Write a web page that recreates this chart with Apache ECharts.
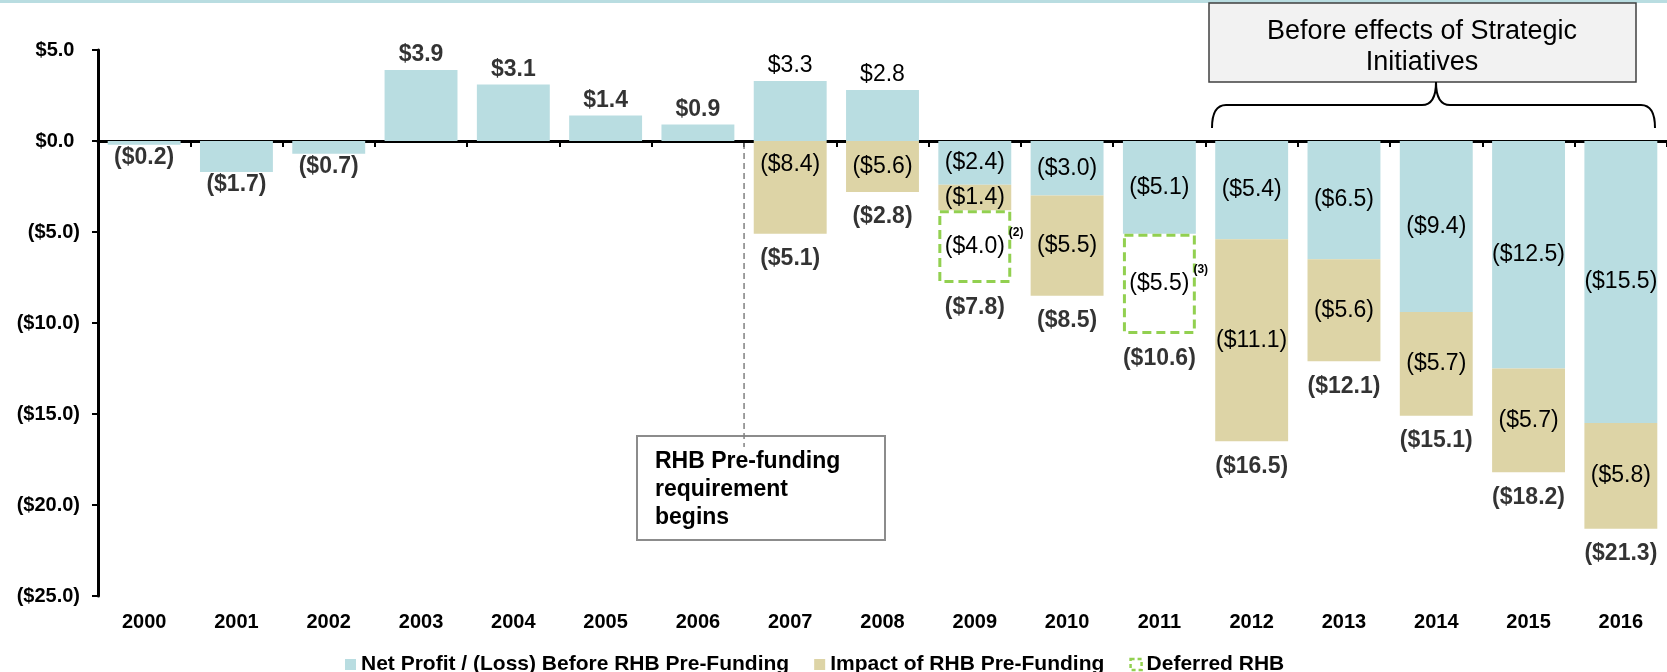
<!DOCTYPE html>
<html>
<head>
<meta charset="utf-8">
<script src="https://cdn.jsdelivr.net/npm/echarts@6.0.0/dist/echarts.min.js"></script>
<style>
  html, body { margin: 0; padding: 0; background: #fff; }
  #chart { width: 1667px; height: 672px; }
</style>
</head>
<body>
<div id="chart"></div>
<script>
// data ($ millions)
const years = ['2000', '2001', '2002', '2003', '2004', '2005', '2006', '2007', '2008',
               '2009', '2010', '2011', '2012', '2013', '2014', '2015', '2016'];
const netProfit = [-0.2, -1.7, -0.7, 3.9, 3.1, 1.4, 0.9, 3.3, 2.8,
                   -2.4, -3.0, -5.1, -5.4, -6.5, -9.4, -12.5, -15.5];
const rhbImpact = [null, null, null, null, null, null, null, -8.4, -5.6,
                   -1.4, -5.5, null, -11.1, -5.6, -5.7, -5.7, -5.8];
const deferredRhb = [null, null, null, null, null, null, null, null, null,
                     -4.0, null, -5.5, null, null, null, null, null];
const deferredNote = [null, null, null, null, null, null, null, null, null,
                      '(2)', null, '(3)', null, null, null, null, null];
const totals = [-0.2, -1.7, -0.7, 3.9, 3.1, 1.4, 0.9, -5.1, -2.8,
                -7.8, -8.5, -10.6, -16.5, -12.1, -15.1, -18.2, -21.3];
const yTicks = { min: -25, max: 5, step: 5 };

const profitName = 'Net Profit / (Loss) Before RHB Pre-Funding';
const impactName = 'Impact of RHB Pre-Funding';
const deferredName = 'Deferred RHB';

const BLUE = '#b9dde1';
const TAN = '#ddd4a6';
const GREEN = '#92d050';
const FONT = '"Liberation Sans", Arial, sans-serif';
const firstPrefund = years.indexOf('2007');

const fmt = v => v < 0 ? '($' + Math.abs(v).toFixed(1) + ')' : '$' + v.toFixed(1);

const chart = echarts.init(document.getElementById('chart'));

const option = {
    animation: false,
    textStyle: { fontFamily: FONT },
    grid: { left: 98, right: 0, top: 50, bottom: 76, containLabel: false },
    legend: {
        left: 340,
        top: 649,
        itemWidth: 11,
        itemHeight: 11,
        itemGap: 25,
        textStyle: { fontSize: 21, fontWeight: 'bold', color: '#000', fontFamily: FONT },
        data: [
            { name: profitName, icon: 'rect' },
            { name: impactName, icon: 'rect' },
            { name: deferredName, icon: 'rect',
              itemStyle: { color: '#fff', borderColor: GREEN, borderWidth: 2.5, borderType: [4, 3] } }
        ]
    },
    xAxis: [{
        type: 'category',
        data: years,
        axisLine: { onZero: true, lineStyle: { color: '#000', width: 3 } },
        axisTick: { show: true, length: 6, lineStyle: { color: '#000', width: 2 } },
        axisLabel: { show: false },
        splitLine: { show: false }
    }, {
        type: 'category',
        data: years,
        position: 'bottom',
        axisLine: { show: false, onZero: false },
        axisTick: { show: false },
        axisLabel: { fontSize: 20, fontWeight: 'bold', color: '#000', margin: 16, fontFamily: FONT },
        splitLine: { show: false }
    }],
    yAxis: {
        type: 'value',
        min: yTicks.min,
        max: yTicks.max,
        interval: yTicks.step,
        axisLine: { show: true, lineStyle: { color: '#000', width: 3 } },
        axisTick: { show: true, length: 6, lineStyle: { color: '#000', width: 2 } },
        axisLabel: {
            fontSize: 20, fontWeight: 'bold', color: '#000', margin: 18, fontFamily: FONT,
            formatter: v => v < 0 ? fmt(v) : fmt(v) + ' '
        },
        splitLine: { show: false }
    },
    series: [{
        name: profitName,
        type: 'bar',
        stack: 'total',
        barWidth: '79%',
        itemStyle: { color: BLUE },
        label: { fontSize: 23, color: '#000', fontFamily: FONT, formatter: p => fmt(p.value) },
        data: netProfit.map((v, i) => ({
            value: v,
            label: i < firstPrefund ? { show: false }
                 : v > 0 ? { show: true, position: 'top', distance: 4 }
                 : { show: true, position: 'inside' }
        }))
    }, {
        name: impactName,
        type: 'bar',
        stack: 'total',
        barWidth: '79%',
        itemStyle: { color: TAN },
        label: { show: true, position: 'inside', fontSize: 23, color: '#000', fontFamily: FONT,
                 formatter: p => fmt(rhbImpact[p.dataIndex]) },
        // where the profit is positive the tan bar shows the net result below zero
        data: rhbImpact.map((v, i) => v == null ? null : {
            value: netProfit[i] > 0 ? +(netProfit[i] + v).toFixed(1) : v,
            label: netProfit[i] > 0 && netProfit[i] + v < -4
                ? { position: 'insideTop', distance: 12 } : {}
        })
    }, {
        name: deferredName,
        type: 'bar',
        stack: 'total',
        barWidth: '79%',
        itemStyle: { color: 'rgba(255,255,255,0)', borderColor: GREEN, borderWidth: 3, borderType: [9, 5] },
        label: { show: true, position: 'inside', fontSize: 23, color: '#000', fontFamily: FONT,
                 formatter: p => fmt(p.value) },
        data: deferredRhb
    }, {
        name: 'total',
        type: 'scatter',
        symbolSize: 1,
        itemStyle: { color: 'rgba(0,0,0,0)' },
        silent: true,
        z: 5,
        label: { show: true, fontSize: 23, fontWeight: 'bold', color: '#000', fontFamily: FONT,
                 formatter: p => fmt(p.value) },
        data: totals.map((v, i) => ({
            value: v,
            label: v >= 0 ? { position: 'top', distance: 3 }
                 : { position: 'bottom', distance: i < firstPrefund ? 1 : 13 }
        }))
    }]
};
chart.setOption(option);

// annotations placed from the axes
const px = (i, v) => chart.convertToPixel({ seriesIndex: 0 }, [i, v]);
const zeroY = px(0, 0)[1];
const splitX = (px(firstPrefund - 1, 0)[0] + px(firstPrefund, 0)[0]) / 2;

const braceStyle = { fill: null, stroke: '#000', lineWidth: 2 };
const graphics = [
    { type: 'rect', shape: { x: 0, y: 0, width: 1667, height: 3 }, style: { fill: BLUE } },
    // RHB pre-funding call-out
    { type: 'rect', shape: { x: 637, y: 436, width: 248, height: 104 },
      style: { fill: '#fff', stroke: '#8c8c8c', lineWidth: 2 }, z: 10 },
    { type: 'line', shape: { x1: splitX, y1: zeroY + 2, x2: splitX, y2: 447 },
      style: { stroke: '#808080', lineWidth: 1.5, lineDash: [6, 4] }, z: 11 },
    { type: 'text', x: 655, y: 490, z: 12,
      style: { text: 'RHB Pre-funding\nrequirement\nbegins', fill: '#000', fontSize: 23,
               fontWeight: 'bold', fontFamily: FONT, lineHeight: 28, align: 'left', verticalAlign: 'middle' } },
    // strategic initiatives call-out and brace
    { type: 'rect', shape: { x: 1209, y: 3, width: 427, height: 79 },
      style: { fill: '#f2f2f2', stroke: '#404040', lineWidth: 1.5 }, z: 10 },
    { type: 'text', x: 1422, y: 47, z: 12,
      style: { text: 'Before effects of Strategic\nInitiatives', fill: '#000', fontSize: 27,
               fontFamily: FONT, lineHeight: 31, align: 'center', verticalAlign: 'middle' } },
    { type: 'bezierCurve', z: 10, shape: { x1: 1212, y1: 128, cpx1: 1212, cpy1: 105, x2: 1226, y2: 105 }, style: braceStyle },
    { type: 'line', z: 10, shape: { x1: 1226, y1: 105, x2: 1422, y2: 105 }, style: braceStyle },
    { type: 'bezierCurve', z: 10, shape: { x1: 1422, y1: 105, cpx1: 1436, cpy1: 105, x2: 1436, y2: 82 }, style: braceStyle },
    { type: 'bezierCurve', z: 10, shape: { x1: 1436, y1: 82, cpx1: 1436, cpy1: 105, x2: 1450, y2: 105 }, style: braceStyle },
    { type: 'line', z: 10, shape: { x1: 1450, y1: 105, x2: 1641, y2: 105 }, style: braceStyle },
    { type: 'bezierCurve', z: 10, shape: { x1: 1641, y1: 105, cpx1: 1655, cpy1: 105, x2: 1655, y2: 128 }, style: braceStyle }
];

deferredRhb.forEach((v, i) => {
    if (v == null) return;
    const base = (netProfit[i] < 0 ? netProfit[i] : 0) + (rhbImpact[i] || 0);
    const p = px(i, base + v / 2);
    graphics.push({ type: 'text', x: p[0] + 34, y: p[1] - 14, z: 12,
        style: { text: deferredNote[i], fill: '#000', fontSize: 12, fontWeight: 'bold',
                 fontFamily: FONT, align: 'left', verticalAlign: 'middle' } });
});

chart.setOption({ graphic: graphics });
</script>
</body>
</html>
